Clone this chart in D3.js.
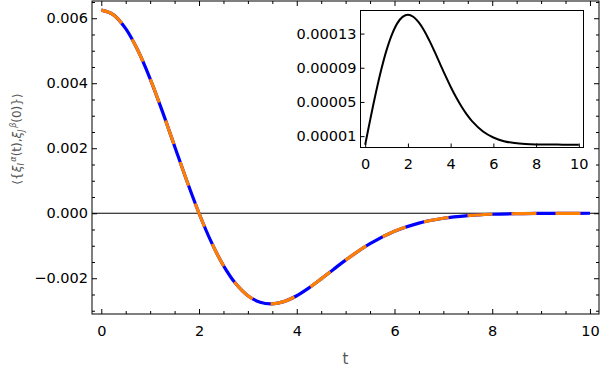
<!DOCTYPE html>
<html>
<head>
<meta charset="utf-8">
<script src="https://cdn.jsdelivr.net/npm/d3@7"></script>
<style>
body { margin: 0; background: #fff; }
svg { display: block; }
</style>
</head>
<body>
<svg width="600" height="370"></svg>
<script>
// time grid shared by both curves
var times = [0, 0.25, 0.5, 0.75, 1, 1.25, 1.5, 1.75, 2, 2.25, 2.5, 2.75, 3, 3.25, 3.5, 3.75,
  4, 4.25, 4.5, 4.75, 5, 5.5, 6, 6.5, 7, 7.5, 8, 8.5, 9, 9.5, 10];

// main correlator (drawn twice: solid blue + dashed orange)
var corrValues = [0.00625, 0.006105, 0.005679, 0.005006, 0.004137, 0.003133, 0.002064, 0.000999,
  0, -0.000882, -0.001610, -0.002163, -0.002536, -0.002738, -0.002788, -0.002711,
  -0.002538, -0.002298, -0.002020, -0.001728, -0.001442, -0.000935, -0.000555, -0.000304,
  -0.000154, -0.000072, -0.000031, -0.000013, -0.000005, -0.000002, -0.000001];

// inset curve
var insetValues = [0, 0.0000311, 0.0000607, 0.0000876, 0.0001106, 0.0001288, 0.0001419, 0.0001495,
  0.0001520, 0.0001497, 0.0001434, 0.0001339, 0.0001220, 0.0001088, 0.0000949, 0.0000810,
  0.0000678, 0.0000557, 0.0000449, 0.0000355, 0.0000275, 0.0000157, 0.0000084, 0.0000041,
  0.0000019, 0.0000008, 0.0000003, 0.0000001, 0.0000001, 0, 0];

var xTicks = [0, 2, 4, 6, 8, 10];
var xMinor = [0.5, 1, 1.5, 2.5, 3, 3.5, 4.5, 5, 5.5, 6.5, 7, 7.5, 8.5, 9, 9.5];
var yTicks = [-0.002, 0, 0.002, 0.004, 0.006];
var yMinor = [-0.003, -0.0025, -0.0015, -0.001, -0.0005, 0.0005, 0.001, 0.0015, 0.0025, 0.003, 0.0035, 0.0045, 0.005, 0.0055, 0.0065];
var insetYTicks = [0.00001, 0.00005, 0.00009, 0.00013];
var insetYLabels = ['0.00001', '0.00005', '0.00009', '0.00013'];

var font = "'DejaVu Sans', sans-serif";
var svg = d3.select('svg');
svg.append('rect').attr('width', 600).attr('height', 370).attr('fill', '#fff');

var frame = {left: 92, right: 599, top: 1, bottom: 314};
var x = d3.scaleLinear().domain([-0.19, 10.185]).range([frame.left, frame.right]);
var y = d3.scaleLinear().domain([-0.0031, 0.00653]).range([frame.bottom, frame.top]);

var pts = times.map(function(t, i) { return {t: t, v: corrValues[i]}; });

function fmtY(d) {
  var s = d3.format('.3f')(Math.abs(d));
  return d < 0 ? '\u2212' + s : s;
}

function styleAxis(g, size) {
  g.select('.domain').remove();
  g.selectAll('line').attr('stroke', '#000').attr('stroke-width', 1);
  g.selectAll('text').attr('font-family', font).attr('font-size', size).attr('fill', '#000');
}

// main axes, ticks pointing inward
var gx = svg.append('g').attr('transform', 'translate(0,' + frame.bottom + ')')
  .call(d3.axisBottom(x).tickValues(xTicks).tickSize(-5).tickPadding(12).tickFormat(d3.format('d')));
styleAxis(gx, 14.5);
var gxm = svg.append('g').attr('transform', 'translate(0,' + frame.bottom + ')')
  .call(d3.axisBottom(x).tickValues(xMinor).tickSize(-3).tickFormat(''));
styleAxis(gxm, 0);
var gxt = svg.append('g').attr('transform', 'translate(0,' + frame.top + ')')
  .call(d3.axisTop(x).tickValues(xTicks).tickSize(-5).tickFormat(''));
styleAxis(gxt, 0);
var gxtm = svg.append('g').attr('transform', 'translate(0,' + frame.top + ')')
  .call(d3.axisTop(x).tickValues(xMinor).tickSize(-3).tickFormat(''));
styleAxis(gxtm, 0);

var gy = svg.append('g').attr('transform', 'translate(' + frame.left + ',0)')
  .call(d3.axisLeft(y).tickValues(yTicks).tickSize(-5).tickPadding(4).tickFormat(fmtY));
styleAxis(gy, 14.5);
var gym = svg.append('g').attr('transform', 'translate(' + frame.left + ',0)')
  .call(d3.axisLeft(y).tickValues(yMinor).tickSize(-3).tickFormat(''));
styleAxis(gym, 0);
var gyr = svg.append('g').attr('transform', 'translate(' + frame.right + ',0)')
  .call(d3.axisRight(y).tickValues(yTicks).tickSize(-5).tickFormat(''));
styleAxis(gyr, 0);
var gyrm = svg.append('g').attr('transform', 'translate(' + frame.right + ',0)')
  .call(d3.axisRight(y).tickValues(yMinor).tickSize(-3).tickFormat(''));
styleAxis(gyrm, 0);

// zero line
svg.append('line')
  .attr('x1', frame.left).attr('x2', frame.right)
  .attr('y1', y(0)).attr('y2', y(0))
  .attr('stroke', '#000').attr('stroke-width', 1);

var line = d3.line()
  .curve(d3.curveCatmullRom)
  .x(function(d) { return x(d.t); })
  .y(function(d) { return y(d.v); });

svg.append('path').attr('d', line(pts))
  .attr('fill', 'none').attr('stroke', '#0000ff').attr('stroke-width', 3.2);
svg.append('path').attr('d', line(pts))
  .attr('fill', 'none').attr('stroke', '#ff8000').attr('stroke-width', 3.2)
  .attr('stroke-dasharray', '25,19');

svg.append('rect')
  .attr('x', frame.left).attr('y', frame.top)
  .attr('width', frame.right - frame.left).attr('height', frame.bottom - frame.top)
  .attr('fill', 'none').attr('stroke', '#000').attr('stroke-width', 1);

// axis labels
svg.append('text')
  .attr('x', (frame.left + frame.right) / 2).attr('y', 364)
  .attr('text-anchor', 'middle')
  .attr('font-family', font).attr('font-size', 15).attr('fill', '#555')
  .text('t');

var yl = svg.append('text')
  .attr('transform', 'translate(21,139) rotate(-90)')
  .attr('text-anchor', 'middle')
  .attr('font-family', font).attr('font-size', 12).attr('fill', '#555');
yl.append('tspan').text('\u27e8{');
yl.append('tspan').attr('font-style', 'italic').text('\u03be');
yl.append('tspan').attr('font-style', 'italic').attr('font-size', 8).attr('dy', 3).text('I');
yl.append('tspan').attr('font-style', 'italic').attr('font-size', 8).attr('dy', -8).text('\u2009\u03b1');
yl.append('tspan').attr('dy', 5).text('(t),');
yl.append('tspan').attr('font-style', 'italic').text('\u03be');
yl.append('tspan').attr('font-style', 'italic').attr('font-size', 8).attr('dy', 3).text('J');
yl.append('tspan').attr('font-style', 'italic').attr('font-size', 8).attr('dy', -8).text('\u2009\u03b2');
yl.append('tspan').attr('dy', 5).text('(0)}\u27e9');

// inset
var inset = {left: 360.5, right: 583.5, top: 10.5, bottom: 147.5};
var xi = d3.scaleLinear().domain([-0.22, 10.22]).range([inset.left, inset.right]);
var yi = d3.scaleLinear().domain([-0.0000033, 0.000157]).range([inset.bottom, inset.top]);
var ipts = times.map(function(t, i) { return {t: t, v: insetValues[i]}; });

svg.append('rect')
  .attr('x', inset.left).attr('y', inset.top)
  .attr('width', inset.right - inset.left).attr('height', inset.bottom - inset.top)
  .attr('fill', '#fff');

var gxi = svg.append('g').attr('transform', 'translate(0,' + inset.bottom + ')')
  .call(d3.axisBottom(xi).tickValues(xTicks).tickSize(-4).tickPadding(11.5).tickFormat(d3.format('d')));
styleAxis(gxi, 14.5);
var gyi = svg.append('g').attr('transform', 'translate(' + inset.left + ',0)')
  .call(d3.axisLeft(yi).tickValues(insetYTicks).tickSize(-4).tickPadding(4)
    .tickFormat(function(d, i) { return insetYLabels[i]; }));
styleAxis(gyi, 14.5);

svg.append('path')
  .attr('d', d3.line().curve(d3.curveCatmullRom)
    .x(function(d) { return xi(d.t); })
    .y(function(d) { return yi(d.v); })(ipts))
  .attr('fill', 'none').attr('stroke', '#000').attr('stroke-width', 2);

svg.append('rect')
  .attr('x', inset.left).attr('y', inset.top)
  .attr('width', inset.right - inset.left).attr('height', inset.bottom - inset.top)
  .attr('fill', 'none').attr('stroke', '#000').attr('stroke-width', 1);
</script>
</body>
</html>
